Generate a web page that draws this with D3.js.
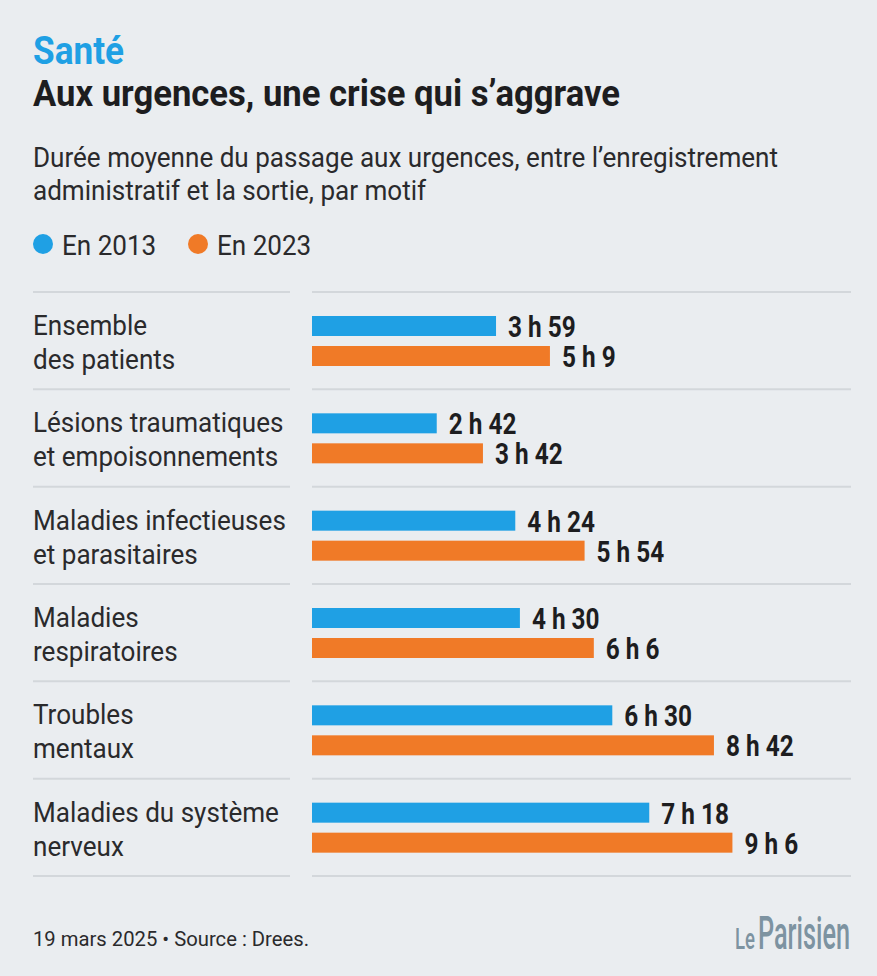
<!DOCTYPE html>
<html>
<head>
<meta charset="utf-8">
<script src="https://cdn.jsdelivr.net/npm/d3@7"></script>
<style>
  html, body { margin: 0; padding: 0; background: #eaedf0; }
  svg text { font-family: Roboto, "Noto Sans", sans-serif; }
</style>
</head>
<body>
<div id="chart"></div>
<script>
// data (minutes)
const categories = [
  ['Ensemble', 'des patients'],
  ['Lésions traumatiques', 'et empoisonnements'],
  ['Maladies infectieuses', 'et parasitaires'],
  ['Maladies', 'respiratoires'],
  ['Troubles', 'mentaux'],
  ['Maladies du système', 'nerveux']
];
const minutes2013 = [239, 162, 264, 270, 390, 438];
const minutes2023 = [309, 222, 354, 366, 522, 546];
const seriesNames = ['En 2013', 'En 2023'];
const seriesColors = ['#1fa0e4', '#f07a27'];

const W = 877, H = 976;
const fmt = m => `${Math.floor(m / 60)} h ${m % 60}`;

const svg = d3.select('#chart').append('svg')
  .attr('width', W).attr('height', H);

svg.append('rect').attr('width', W).attr('height', H).attr('fill', '#eaedf0');

// squeeze text horizontally to fake the condensed face
const squeezeTo = (sel, width) => sel.attr('textLength', width).attr('lengthAdjust', 'spacingAndGlyphs');
const squeezeBy = (sel, k) => sel.each(function () {
  const w = this.getComputedTextLength();
  d3.select(this).attr('textLength', w * k).attr('lengthAdjust', 'spacingAndGlyphs');
});

// header
svg.append('text').attr('x', 33).attr('y', 64)
  .style('font-size', '39px').style('font-weight', 700).attr('fill', '#1fa0e4')
  .text('Santé').call(squeezeTo, 91);

svg.append('text').attr('x', 33).attr('y', 106)
  .style('font-size', '36px').style('font-weight', 700).attr('fill', '#1d1d1f')
  .text('Aux urgences, une crise qui s’aggrave').call(squeezeTo, 587);

const sub1 = svg.append('text').attr('x', 33).attr('y', 167)
  .style('font-size', '28px').attr('fill', '#2a2a2c')
  .text('Durée moyenne du passage aux urgences, entre l’enregistrement');
const kReg = 745 / sub1.node().getComputedTextLength();
sub1.call(squeezeTo, 745);
svg.append('text').attr('x', 33).attr('y', 200)
  .style('font-size', '28px').attr('fill', '#2a2a2c')
  .text('administratif et la sortie, par motif').call(squeezeBy, kReg);

// legend
const legendX = [43, 198];
seriesNames.forEach((name, i) => {
  svg.append('circle').attr('cx', legendX[i]).attr('cy', 244).attr('r', 10).attr('fill', seriesColors[i]);
  svg.append('text').attr('x', legendX[i] + 19).attr('y', 255)
    .style('font-size', '28px').attr('fill', '#2a2a2c')
    .text(name).call(squeezeBy, kReg);
});

// scales
const y = d3.scaleBand().domain(d3.range(categories.length)).range([292, 876]);
const x = d3.scaleLinear().domain([0, 700]).range([312, 851]);

// separators
const sepY = categories.map((d, i) => y(i)).concat([876]);
svg.selectAll('.sepL').data(sepY).join('line')
  .attr('x1', 33).attr('x2', 290).attr('y1', d => d).attr('y2', d => d)
  .attr('stroke', '#d3d7db').attr('stroke-width', 2);
svg.selectAll('.sepR').data(sepY).join('line')
  .attr('x1', 312).attr('x2', 851).attr('y1', d => d).attr('y2', d => d)
  .attr('stroke', '#d3d7db').attr('stroke-width', 2);

// category labels
categories.forEach((lines, i) => {
  lines.forEach((t, j) => {
    svg.append('text').attr('x', 33).attr('y', y(i) + 43 + j * 34)
      .style('font-size', '28px').attr('fill', '#2a2a2c')
      .text(t).call(squeezeBy, kReg);
  });
});

// bars + value labels
const series = [minutes2013, minutes2023];
const barOff = [24, 54], barH = 20;
series.forEach((vals, s) => {
  svg.selectAll(`.bar${s}`).data(vals).join('rect')
    .attr('x', x(0)).attr('y', (d, i) => y(i) + barOff[s])
    .attr('width', d => x(d) - x(0)).attr('height', barH)
    .attr('fill', seriesColors[s]);
  svg.selectAll(`.lab${s}`).data(vals).join('text')
    .attr('x', d => x(d) + 12).attr('y', (d, i) => y(i) + barOff[s] + barH + 1)
    .style('font-size', '29px').style('font-weight', 700).attr('fill', '#1d1d1f')
    .text(d => fmt(d)).call(squeezeBy, 0.84);
});

// footer
svg.append('text').attr('x', 33).attr('y', 946)
  .style('font-size', '21px').attr('fill', '#2a2a2c')
  .text('19 mars 2025 • Source : Drees.').call(squeezeTo, 276);

// logo, scaled with a transform so its box stays honest
const logoPart = (txt, size, x0, width) => {
  const t = svg.append('text').attr('x', 0).attr('y', 0)
    .style('font-size', size + 'px').style('font-weight', 500).attr('fill', '#7d93a1')
    .text(txt);
  const k = width / t.node().getComputedTextLength();
  t.attr('transform', `translate(${x0},949) scale(${k},1)`);
};
logoPart('Le', 30, 735, 20);
logoPart('Parisien', 46, 758, 92);
</script>
</body>
</html>
